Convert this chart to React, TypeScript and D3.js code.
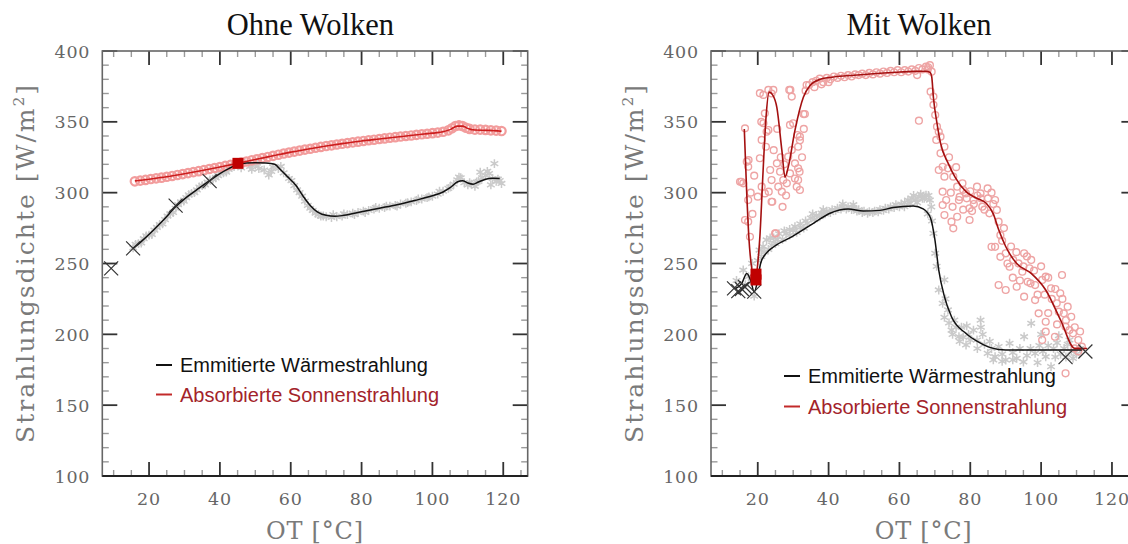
import * as d3 from "d3";

// ---- data ----
const xMajorTicks = [20, 40, 60, 80, 100, 120];
const yMajorTicks = [100, 150, 200, 250, 300, 350, 400];
const legendLabels = ["Emmitierte Wärmestrahlung", "Absorbierte Sonnenstrahlung"];

// Ohne Wolken
const leftEmitLine = [
  [15.5, 260.7], [18, 266], [21, 273], [24, 280.5], [27.5, 290], [31, 297.5], [34, 303],
  [37.1, 308.5], [40, 313.5], [42.5, 317], [45, 319.8], [47.5, 321], [50, 321.2], [53, 321],
  [55.5, 320], [57, 316.5], [59, 311.5], [61.5, 305], [63.5, 297.5], [65.5, 291], [67.5, 286.5],
  [70, 284], [72.5, 283.3], [75, 284], [80, 286.5], [85, 289], [90, 291.5], [95, 294.5],
  [100, 297.8], [103, 300.5], [105, 303.5], [107, 307.5], [108.5, 308.5], [110, 306.8],
  [111.5, 306], [113, 307.5], [115, 309.5], [117, 310.2], [119, 310],
];
const leftEmitPoints = [
  [15.5, 261], [17, 264], [18.5, 267.5], [20, 270], [21.5, 273.5], [23, 277.5], [24.5, 281],
  [26, 285], [27.5, 289], [29, 293.5], [30.5, 296.5], [32, 299.5], [33.5, 302], [35, 305],
  [36.5, 307.5], [38, 309.5], [39.5, 312], [41, 314], [42.5, 316.5], [44, 318.5], [45.5, 320.5],
  [47, 321], [48.5, 318.5], [50, 319.5], [51, 317], [52.5, 316], [53.8, 312.5], [55, 318],
  [56.5, 317], [58, 314], [59.5, 310], [61, 305], [62.5, 300], [64, 294], [65.5, 289],
  [67, 285.5], [68.5, 283.5], [70, 283], [71.5, 282.5], [73, 283], [74.5, 283.5], [76, 284.5],
  [77.5, 285.5], [79, 286], [80.5, 287], [82, 287.5], [83.5, 288.5], [85, 289], [86.5, 289.5],
  [88, 290.5], [89.5, 291], [91, 292], [92.5, 292.5], [94, 293.5], [95.5, 294.5], [97, 295.5],
  [98.5, 296.5], [100, 297.5], [101.5, 299], [103, 301], [104.5, 303], [106, 306], [107, 309],
  [108, 310.5], [109, 307], [110, 305.5], [111, 306], [112, 304.5], [113, 308], [114, 310.5],
  [115, 312], [116, 313.5], [116.5, 305.5], [117.5, 320.5], [118, 308], [119, 308.5], [119.5, 306.5],
  [16.2, 263.5], [17.8, 264.5], [19.2, 269.5], [20.8, 270.5], [22.2, 275.5], [23.8, 278],
  [25.2, 283.5], [26.8, 286], [28.2, 291.5], [29.8, 294], [31.2, 298.5], [32.8, 300],
  [34.2, 304], [35.8, 305.5], [37.2, 309], [38.8, 310.5], [40.2, 313.5], [41.8, 314.5],
  [43.2, 318], [46, 317.5], [49, 316.5], [50.5, 321], [54.5, 315], [57.2, 318.5], [60.2, 308.5],
  [61.8, 302], [63.2, 297.5], [64.8, 291], [66.2, 287.5], [67.8, 284.5], [69.2, 283.5],
  [72, 284.5], [75, 285], [78, 284.5], [81, 286], [84, 289.5], [87, 290.5], [90, 290.5],
  [93, 293], [96, 295.5], [99, 297], [102, 301], [105, 304], [107.5, 311], [110.5, 307],
  [112.5, 307.5], [113.5, 314.5], [115.5, 315], [117, 310], [118.5, 309.5],
];
const leftAbsLine = [
  [16, 308.3], [20, 309.5], [25, 311.2], [30, 313.3], [35, 315.6], [40, 318.1], [45, 320.7],
  [50, 323.4], [55, 326], [60, 328.6], [65, 330.8], [70, 332.9], [75, 334.8], [80, 336.5],
  [85, 337.9], [90, 339.3], [95, 340.7], [100, 342], [103, 343], [105, 344.5], [107, 347],
  [108.5, 347], [110, 345.3], [112, 344.2], [116, 344], [119.5, 343.3],
];
const leftAbsPoints = [
  [16, 308], [17.5, 308.5], [19, 309], [20.5, 309.6], [22, 310.1], [23.5, 310.6], [25, 311.2],
  [26.5, 311.8], [28, 312.5], [29.5, 313.1], [31, 313.8], [32.5, 314.5], [34, 315.2],
  [35.5, 315.9], [37, 316.7], [38.5, 317.4], [40, 318.1], [41.5, 318.9], [43, 319.6],
  [44.5, 320.4], [46, 321.2], [47.5, 322], [49, 322.8], [50.5, 323.6], [52, 324.4],
  [53.5, 325.2], [55, 326], [56.5, 326.8], [58, 327.6], [59.5, 328.3], [61, 329], [62.5, 329.7],
  [64, 330.4], [65.5, 331], [67, 331.7], [68.5, 332.3], [70, 332.9], [71.5, 333.4], [73, 334],
  [74.5, 334.5], [76, 335], [77.5, 335.5], [79, 336], [80.5, 336.5], [82, 337], [83.5, 337.4],
  [85, 337.9], [86.5, 338.3], [88, 338.8], [89.5, 339.2], [91, 339.6], [92.5, 340], [94, 340.4],
  [95.5, 340.8], [97, 341.2], [98.5, 341.6], [100, 342], [101.5, 342.4], [103, 343],
  [104.5, 344], [105.5, 345.5], [106.5, 347], [107.5, 347.5], [108.5, 347], [109.5, 345.8],
  [110.5, 345], [112, 344.5], [113.5, 344.5], [115, 344.3], [116.5, 344], [118, 343.8], [119.5, 343.5],
];
const leftCrosses = [[9.3, 246.6], [15.5, 260.7], [27.5, 290.8], [37.1, 308.2]];
const leftSquares = [[45.1, 320.7]];

// Mit Wolken
const rightEmitLine = [
  [13.5, 232], [15.5, 236], [16.9, 243], [18, 238], [19, 230], [19.8, 236], [20.8, 250],
  [22.3, 257], [24.6, 262], [29.7, 269], [35.8, 278.5], [40.4, 285.5], [45.5, 288.5],
  [49.8, 287], [54.5, 287.5], [58.2, 289.5], [63.9, 290.6], [66.7, 288.5], [68.8, 282],
  [70, 267], [71.1, 245.4], [72.7, 226.6], [74.7, 212.4], [78.8, 200.6], [82, 195],
  [84.9, 191.3], [88, 189.3], [90, 189], [111.5, 189],
];
const rightEmitPoints = [
  [14, 238], [15.9, 245.4], [16.5, 235], [17.4, 240.7], [18.4, 250.1], [19, 227], [20.5, 259.5],
  [21, 255], [21.5, 262], [22.5, 266.6], [23, 260], [23.5, 268], [24.5, 268], [25, 264],
  [26, 271], [27, 267], [27.5, 273], [29, 274], [29, 270], [30.5, 276], [31, 272], [32, 278],
  [33, 275], [33.5, 280], [35, 282], [36.5, 284], [38, 285.5], [39.5, 287], [41, 288],
  [42.5, 289], [44, 290], [45.5, 290], [47, 289.5], [48.5, 288], [50, 287], [51.5, 286.5],
  [53, 287], [54.5, 288], [56, 289], [57.5, 290], [59, 291.5], [60.5, 292], [61.4, 290.1],
  [62.4, 294.8], [63.5, 296], [64.5, 295], [65.5, 297.2], [66.5, 296], [67.5, 298.3],
  [68.6, 294.8], [68, 285], [69.2, 280], [69.6, 271.3], [70.1, 257.2], [70.5, 248],
  [71.1, 231.3], [72.7, 238.4], [72.2, 221.9], [72.7, 212], [73.7, 217.2], [74.7, 203],
  [75.5, 210], [76.8, 198.3], [77.5, 205], [78.8, 192.5], [79.5, 200], [80.9, 203], [81.9, 196],
  [82.9, 210], [83.5, 200], [84.9, 186.6], [85.5, 195], [87, 184.2], [88, 191.3], [89, 186],
  [90, 181.9], [91.1, 193.7], [92, 187], [93.1, 183.1], [94, 190], [95.2, 198.3], [96, 185],
  [97.2, 207.8], [98.3, 186.6], [99.5, 192], [100.5, 188], [101.3, 184.2], [102.8, 177.2],
  [103.5, 190], [104.5, 194], [105.5, 186], [106.5, 190], [107.5, 193], [108.5, 188],
  [110, 186], [111, 190],
  [20, 252], [22, 258], [24, 263], [25.5, 267], [28, 271], [30, 273.5], [32, 275.5], [34, 278.5],
  [36, 281], [37.5, 283], [39, 285], [40.5, 286], [42, 287.5], [43.5, 288.5], [45, 288.5],
  [46.5, 288], [48, 287], [49.5, 286], [51, 285.5], [52.5, 286], [54, 286.5], [55.5, 287.5],
  [57, 288.5], [58.5, 289.5], [60, 290], [61.5, 293], [63, 292.5], [64, 298], [65, 293], [66, 299],
  [67, 296], [68.2, 298], [69, 290], [44, 292], [47, 291.5], [38.5, 288], [35.5, 285],
  [73, 225], [74, 208], [75, 200], [76, 205], [77, 195], [78, 198], [79, 206], [80, 196],
  [82, 190], [83, 205], [84, 193], [86, 190], [86.5, 182], [89, 181], [92, 182], [95, 180.5],
  [97, 190], [99, 180], [100, 200], [102, 192], [104, 184], [105, 199], [107, 184], [108, 196], [109, 183],
];
const rightAbsLine = [
  [16.2, 345], [16.8, 305], [17.5, 268], [18.4, 245], [19.3, 238], [20, 250], [20.6, 269],
  [21.5, 315], [22.3, 352], [23.2, 371], [24.2, 369], [25.4, 360], [26.8, 330], [27.7, 311],
  [28.6, 318], [30.5, 344], [32.9, 367.5], [34.7, 375.5], [37.6, 380], [41, 381.5],
  [45.1, 382.5], [50, 383.4], [54.5, 384.3], [59, 385], [63.9, 385.6], [67.5, 385.7],
  [68.6, 385], [69.1, 382], [69.6, 367], [70.6, 349], [71.6, 335], [73.7, 321], [75.7, 311],
  [78.8, 300.7], [81.9, 296], [84.5, 292.5], [86.5, 285], [88, 274], [90, 262], [93.1, 250],
  [97.2, 243], [101.3, 231.3], [105.5, 210], [109.5, 190.1], [113, 190],
];
const rightAbsPoints = [
  [16.4, 345.4], [15, 307.7], [15.4, 307.7], [15.9, 306.6], [16.9, 321.9], [17.3, 318.3],
  [17.4, 323], [17.3, 294.8], [16.4, 280.7], [17.3, 279.5], [17.8, 268.9], [20, 297.2],
  [20.6, 324.3], [21.1, 337.2], [21.6, 349], [21, 350], [21.6, 369], [23, 372.5], [24.4, 372.5],
  [20.6, 370.2], [23.9, 370], [22, 356], [23, 344.2], [22.5, 343], [22.3, 332.4], [23.5, 316],
  [23.9, 308.9], [21.1, 304.2], [22, 299.5], [23.1, 300.7], [23.9, 293.6], [24.1, 293.6],
  [24.9, 271.3], [25.1, 271.3], [25.4, 320.7], [25.8, 304.2], [26.3, 314.8], [26.8, 300.7],
  [27.2, 308.9], [28.2, 306.6], [28.6, 325.4], [29.1, 313.6], [29.6, 330.1], [29.1, 347.8],
  [30, 349], [30.5, 320.7], [31, 304.2], [31.4, 308.9], [31.4, 317.2], [31.4, 332.4],
  [31.9, 339.5], [31.9, 337], [31.2, 340.7], [31.8, 314.8], [31.9, 301.9], [28.9, 372.5],
  [29.2, 372.5], [29.6, 367.8], [32.9, 355.5], [33.3, 355.5], [33.8, 376],
  [18, 300], [19, 312], [18.5, 285], [24.5, 330], [25.5, 345], [26.5, 325], [27.5, 320],
  [28, 298], [30.5, 310], [32.5, 325], [33, 345], [27, 290],
  [33.5, 372], [34.5, 376], [35.5, 378], [36, 374.5], [36.5, 379], [37.5, 380.5], [38, 376.5],
  [38.5, 378], [39.5, 381], [40, 378], [40.5, 380], [41.5, 382], [42.5, 381], [43.5, 382.5],
  [44.5, 381.5], [45.5, 383], [46.5, 382], [47.5, 383.5], [48.5, 383], [49.5, 384], [50.5, 383],
  [51.5, 384.5], [52.5, 383.5], [53.5, 385], [54.5, 384], [55.5, 385.5], [56.5, 384.5],
  [57.5, 386], [58.5, 385], [59.5, 386.5], [60.5, 385], [61.5, 386.5], [62.5, 385.5], [63.5, 387],
  [64.5, 386], [65.5, 388], [66.5, 387], [67.5, 389], [68, 387], [65, 383], [65.5, 350.8],
  [68.6, 390], [68.1, 388.5], [69.1, 385.4], [68.8, 371.3], [69.6, 367.8], [69.6, 362],
  [70.1, 354.8], [70.6, 346.6], [71.1, 343], [70.4, 337.2], [71.6, 339.5], [72.7, 332.4],
  [71.6, 327.8], [72.2, 318.3], [71.1, 316], [73.7, 317.2], [72.7, 311.3], [75.2, 311.3],
  [72.2, 300.7], [73.2, 294.8], [72.2, 291.3], [72.7, 284.2], [74.7, 279.5], [75.2, 274.8],
  [76.3, 304.2], [77.8, 306.6], [76.8, 294.8], [78.8, 299.5], [79.8, 289], [80.9, 294.8],
  [81.9, 304.2], [82.9, 299.5], [83.4, 290.1], [84.9, 303], [85.4, 285.4], [87, 294.8],
  [87.5, 287.8], [88, 279.5], [79.8, 280.7], [76.3, 283], [86, 261.8], [87, 261.8], [88.5, 254.7],
  [90, 257.2], [92.1, 252.5], [91.1, 247.7], [93.6, 250.1], [94.7, 244.2], [97.2, 252.5],
  [96.7, 246.6], [95.2, 257.2], [101.3, 240.7], [105.9, 241.9], [88, 234.8], [90, 231.3],
  [93.1, 233.6], [96.2, 237.1], [98.3, 234.8], [100.3, 238.4], [102.8, 232.5], [105.4, 229],
  [104.4, 221.9], [106.4, 214.8], [107.5, 219.5], [108.5, 212.4], [106.9, 205.4], [109, 200.7],
  [101.3, 201.9], [103.9, 198.3], [100.3, 196], [110.5, 196], [109.5, 190.1], [111.5, 191.3],
  [106.9, 172.5], [98.3, 224.2], [95.2, 226.6], [99.3, 214.8], [101.3, 208.9],
  [74, 325], [74.5, 300], [75, 290], [76, 318], [77, 297], [78, 302], [78, 288], [79, 296],
  [80, 301], [80.5, 287], [81, 292], [82, 298], [83, 296], [84, 288], [85, 296], [86, 300],
  [86.5, 292], [88.5, 270], [89, 266], [89.5, 275], [90.5, 250], [91.5, 262], [92, 240],
  [93, 258], [94, 238], [95, 248], [96, 255], [97, 236], [98, 245], [99, 228], [100, 248],
  [101, 228], [102, 240], [103, 225], [104, 232], [105, 216], [106, 225], [107, 210],
  [108, 203], [109.5, 205], [110.5, 188], [111, 202], [104.5, 207], [102, 215],
];
const rightCrosses = [
  [13.3, 232.4], [14.5, 230.5], [15.5, 232], [16.4, 233.4], [19, 230.2], [106.9, 183.9], [112.5, 187.9],
];
const rightSquares = [[19.5, 238.4], [19.5, 242.5]];

// ---- layout ----
const W = 1128;
const H = 544;
const X_DOMAIN = [6.8, 126.9];
const PLOT_W = 425.4;
const TOP = 51;
const BOTTOM = 476;

const panels = [
  {
    left: 102.3, title: "Ohne Wolken",
    emitLine: leftEmitLine, emitPoints: leftEmitPoints,
    absLine: leftAbsLine, absPoints: leftAbsPoints,
    crosses: leftCrosses, squares: leftSquares,
    legend: { x: 156, y: 365, dy: 29.5 },
    absColor: "#cc1d1d", circleR: 4.2, circleStroke: "#f29c9c", circleW: 2.2,
  },
  {
    left: 711, title: "Mit Wolken",
    emitLine: rightEmitLine, emitPoints: rightEmitPoints,
    absLine: rightAbsLine, absPoints: rightAbsPoints,
    crosses: rightCrosses, squares: rightSquares,
    legend: { x: 784, y: 376, dy: 30.5 },
    absColor: "#a41010", circleR: 3.4, circleStroke: "#eea4a4", circleW: 1.4,
  },
];

const asterisk = d3.symbol(d3.symbolAsterisk, 55)();

function Panel({ p }: { p: typeof panels[number] }) {
  const x = d3.scaleLinear().domain(X_DOMAIN).range([p.left, p.left + PLOT_W]);
  const y = d3.scaleLinear().domain([100, 400]).range([BOTTOM, TOP]);
  const line = d3
    .line<number[]>()
    .x((d) => x(d[0]))
    .y((d) => y(d[1]))
    .curve(d3.curveMonotoneX);

  const xMinor = d3.range(10, 127, 5).filter((v) => v % 20 !== 0);
  const yMinor = d3.range(110, 400, 10).filter((v) => v % 50 !== 0);
  const r0 = p.left;
  const r1 = p.left + PLOT_W;
  const cx = p.left + 208;

  return (
    <g>
      <text x={cx} y={35} textAnchor="middle" fontFamily="'Liberation Serif', serif" fontSize={30.5} fill="#111">
        {p.title}
      </text>

      {/* ticks */}
      {xMinor.map((v) => (
        <g key={"xm" + v} stroke="#9a9a9a" strokeWidth={1.4}>
          <line x1={x(v)} x2={x(v)} y1={BOTTOM} y2={BOTTOM - 6} />
          <line x1={x(v)} x2={x(v)} y1={TOP} y2={TOP + 6} />
        </g>
      ))}
      {xMajorTicks.map((v) => (
        <g key={"xM" + v}>
          <line x1={x(v)} x2={x(v)} y1={BOTTOM} y2={BOTTOM - 14} stroke="#333" strokeWidth={1.8} />
          <line x1={x(v)} x2={x(v)} y1={TOP} y2={TOP + 14} stroke="#333" strokeWidth={1.8} />
          <text x={x(v)} y={505} textAnchor="middle" fontFamily="'DejaVu Serif', serif" fontSize={17.5} letterSpacing={0.8} fill="#666">
            {v}
          </text>
        </g>
      ))}
      {yMinor.map((v) => (
        <g key={"ym" + v} stroke="#9a9a9a" strokeWidth={1.4}>
          <line x1={r0} x2={r0 + 6.5} y1={y(v)} y2={y(v)} />
          <line x1={r1} x2={r1 - 6.5} y1={y(v)} y2={y(v)} />
        </g>
      ))}
      {yMajorTicks.map((v) => (
        <g key={"yM" + v}>
          <line x1={r0} x2={r0 + 15} y1={y(v)} y2={y(v)} stroke="#333" strokeWidth={1.8} />
          <line x1={r1} x2={r1 - 15} y1={y(v)} y2={y(v)} stroke="#333" strokeWidth={1.8} />
          <text x={r0 - 12} y={y(v) + 6.5} textAnchor="end" fontFamily="'DejaVu Serif', serif" fontSize={17.5} letterSpacing={0.8} fill="#666">
            {v}
          </text>
        </g>
      ))}

      {/* frame */}
      <rect x={r0} y={TOP} width={PLOT_W} height={BOTTOM - TOP} fill="none" stroke="#666" strokeWidth={1.6} />
      <line x1={r0} x2={r1} y1={BOTTOM} y2={BOTTOM} stroke="#222" strokeWidth={2} />

      {/* axis titles */}
      <text
        transform={`translate(${p.left - 68.5},264) rotate(-90)`}
        textAnchor="middle"
        fontFamily="'DejaVu Serif', serif"
        fontSize={25}
        fill="#7a7a7a"
        textLength={358}
        lengthAdjust="spacing"
      >
        Strahlungsdichte [W/m<tspan dy={-10} fontSize={15}>2</tspan><tspan dy={10}>]</tspan>
      </text>
      <text
        x={p.left + 212.2}
        y={539}
        textAnchor="middle"
        fontFamily="'DejaVu Serif', serif"
        fontSize={24}
        fill="#7a7a7a"
        textLength={97}
        lengthAdjust="spacing"
      >
        OT [°C]
      </text>

      {/* scatter */}
      {p.emitPoints.map((d, i) => (
        <path key={"ep" + i} d={asterisk} transform={`translate(${x(d[0])},${y(d[1])})`} fill="none" stroke="#cacaca" strokeWidth={1.5} />
      ))}
      {p.absPoints.map((d, i) => (
        <circle key={"ap" + i} cx={x(d[0])} cy={y(d[1])} r={p.circleR} fill="none" stroke={p.circleStroke} strokeWidth={p.circleW} />
      ))}

      {/* fitted lines */}
      <path d={line(p.emitLine) || ""} fill="none" stroke="#111" strokeWidth={1.5} />
      <path d={line(p.absLine) || ""} fill="none" stroke={p.absColor} strokeWidth={1.6} />

      {p.crosses.map((d, i) => (
        <path
          key={"cr" + i}
          d="M-7,-7L7,7M-7,7L7,-7"
          transform={`translate(${x(d[0])},${y(d[1])})`}
          stroke="#333"
          strokeWidth={1.2}
          fill="none"
        />
      ))}
      {p.squares.map((d, i) => (
        <rect key={"sq" + i} x={x(d[0]) - 5.5} y={y(d[1]) - 5.5} width={11} height={11} fill="#c00000" />
      ))}

      {/* legend */}
      {legendLabels.map((lab, i) => (
        <g key={lab}>
          <line
            x1={p.legend.x}
            x2={p.legend.x + 16}
            y1={p.legend.y + i * p.legend.dy}
            y2={p.legend.y + i * p.legend.dy}
            stroke={i === 0 ? "#111" : "#c22a2a"}
            strokeWidth={2}
          />
          <text
            x={p.legend.x + 24}
            y={p.legend.y + i * p.legend.dy + 7}
            fontFamily="'Liberation Sans', Arial, sans-serif"
            fontSize={20}
            fill={i === 0 ? "#111" : "#a3232a"}
          >
            {lab}
          </text>
        </g>
      ))}
    </g>
  );
}

export default function App() {
  return (
    <div style={{ position: "absolute", left: 0, top: 0 }}>
      <svg width={W} height={H} viewBox={`0 0 ${W} ${H}`} style={{ display: "block", background: "#fff" }}>
        {panels.map((p) => (
          <Panel key={p.title} p={p} />
        ))}
      </svg>
    </div>
  );
}
